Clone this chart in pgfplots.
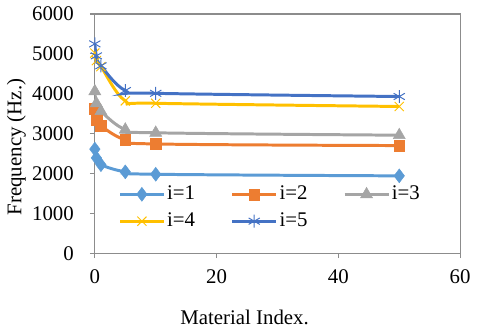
\documentclass[border=0pt]{standalone}
\usepackage{fontspec}
\setmainfont{Liberation Serif}
\usepackage{pgfplots}
\pgfplotsset{compat=1.18}
\definecolor{cA}{HTML}{5B9BD5}
\definecolor{cB}{HTML}{ED7D31}
\definecolor{cC}{HTML}{A5A5A5}
\definecolor{cD}{HTML}{FFC000}
\definecolor{cE}{HTML}{4472C4}
\definecolor{axgray}{HTML}{8C8C8C}
\begin{document}
\fontsize{21bp}{25bp}\selectfont
\begin{tikzpicture}
\begin{axis}[
  scale only axis, width=368bp, height=241bp,
  xmin=0, xmax=60, ymin=0, ymax=6000,
  xtick={0,20,40,60}, ytick={0,1000,2000,3000,4000,5000,6000},
  xticklabels={0,20,40,60},
  yticklabels={0,1000,2000,3000,4000,5000,6000},
  xticklabel style={yshift=-4bp},
  yticklabel style={xshift=-9bp},
  axis line style={axgray, line width=1.2bp},
  tick style={axgray, line width=1.2bp},
  tick align=outside, major tick length=5bp,
  xtick pos=lower, ytick pos=left,
  xlabel={Material Index.}, ylabel={Frequency (Hz.)},
  xlabel style={at={(axis description cs:0.41,-0.299)}, anchor=base},
  ylabel style={at={(axis description cs:-0.201,0.444)}, anchor=base, rotate=0},
  legend columns=3,
  legend style={draw=none, fill=none, at={(axis description cs:0.48,0.19)}, anchor=center,
    /tikz/every even column/.append style={column sep=34bp}, row sep=6bp},
  legend image code/.code={\draw[mark repeat=2,mark phase=2] plot coordinates {(0bp,0bp)(22bp,0bp)(44bp,0bp)};},
  every axis plot/.append style={line width=3bp, smooth, tension=0.65},
]
\addplot[cA, mark=diamond*, mark size=7bp, mark options={line width=0.5bp}] coordinates {(0,2610)(0.25,2390)(1,2220)(5,2040)(10,1980)(50,1940)};
\addlegendentry{i=1}
\addplot[cB, mark=square*, mark size=5.5bp, mark options={line width=0.5bp}] coordinates {(0,3620)(0.25,3340)(1,3190)(5,2840)(10,2740)(50,2700)};
\addlegendentry{i=2}
\addplot[cC, mark=triangle*, mark size=7bp, mark options={line width=0.5bp}] coordinates {(0,4060)(0.25,3760)(1,3560)(5,3100)(10,3020)(50,2960)};
\addlegendentry{i=3}
\addplot[cD, mark=x, mark size=6.5bp, mark options={line width=1bp}] coordinates {(0,5020)(0.25,4830)(1,4680)(5,3820)(10,3760)(50,3680)};
\addlegendentry{i=4}
\addplot[cE, mark=asterisk, mark size=6.5bp, mark options={line width=1bp}] coordinates {(0,5250)(0.25,4950)(1,4700)(5,4080)(10,4010)(50,3930)};
\addlegendentry{i=5}
\end{axis}
\path ([shift={(-92bp,-80bp)}]current axis.south west) rectangle ([shift={(20bp,10bp)}]current axis.north east);
\end{tikzpicture}
\end{document}
